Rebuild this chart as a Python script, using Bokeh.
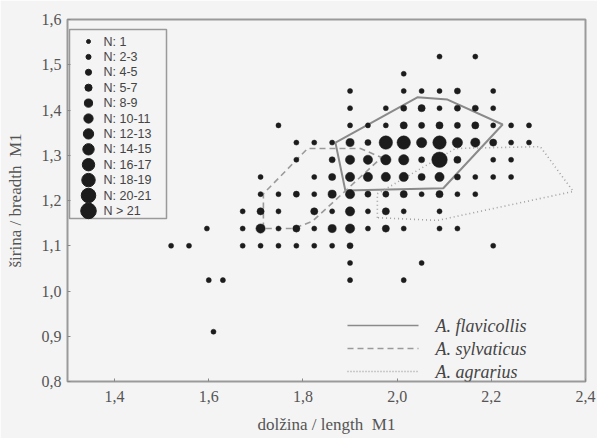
from bokeh.plotting import figure
from bokeh.models import FixedTicker, Range1d
from bokeh.embed import file_html
from bokeh.resources import INLINE
from bokeh.core.properties import value

# ---------------- data ----------------
x_ticks = [1.4, 1.6, 1.8, 2.0, 2.2, 2.4]
x_tick_labels = ["1,4", "1,6", "1,8", "2,0", "2,2", "2,4"]
y_ticks = [0.8, 0.9, 1.0, 1.1, 1.2, 1.3, 1.4, 1.5, 1.6]
y_tick_labels = ["0,8", "0,9", "1,0", "1,1", "1,2", "1,3", "1,4", "1,5", "1,6"]

# breadth rows, with lengths and counts (N) of specimens per grid cell
breadth_rows = [1.518, 1.480, 1.442, 1.404, 1.366, 1.328, 1.290, 1.252,
                1.214, 1.176, 1.138, 1.100, 1.062, 1.024, 0.910]
length_by_row = [
    [2.090, 2.166],
    [2.014],
    [1.900, 2.014, 2.052, 2.090, 2.128, 2.204],
    [1.900, 1.976, 2.014, 2.052, 2.090, 2.128, 2.166, 2.204],
    [1.748, 1.900, 1.938, 1.976, 2.014, 2.052, 2.090, 2.128, 2.166, 2.204, 2.242, 2.280],
    [1.786, 1.824, 1.862, 1.900, 1.938, 1.976, 2.014, 2.052, 2.090, 2.128, 2.166, 2.204, 2.242, 2.280],
    [1.786, 1.862, 1.900, 1.938, 1.976, 2.014, 2.052, 2.090, 2.128, 2.204, 2.242],
    [1.710, 1.824, 1.862, 1.900, 1.938, 1.976, 2.014, 2.052, 2.090, 2.128, 2.166, 2.204, 2.242],
    [1.710, 1.748, 1.786, 1.824, 1.862, 1.900, 1.938, 1.976, 2.014, 2.052, 2.090, 2.128, 2.166],
    [1.672, 1.710, 1.748, 1.824, 1.862, 1.900, 1.938, 1.976, 2.014, 2.090],
    [1.596, 1.672, 1.710, 1.748, 1.786, 1.824, 1.862, 1.900, 1.938, 1.976, 2.014, 2.090, 2.128],
    [1.520, 1.558, 1.672, 1.710, 1.748, 1.786, 1.824, 1.862, 1.900, 2.204],
    [1.900, 2.052],
    [1.600, 1.630, 1.900, 2.014],
    [1.610],
]
count_by_row = [
    [2, 2],
    [2],
    [2, 2, 2, 2, 4, 2],
    [2, 2, 4, 6, 2, 4, 4, 2],
    [2, 2, 2, 2, 6, 4, 6, 4, 6, 2, 2, 2],
    [2, 2, 2, 8, 4, 18, 18, 12, 18, 12, 10, 6, 2, 2],
    [2, 4, 10, 10, 12, 12, 4, 22, 6, 2, 2],
    [2, 2, 6, 10, 10, 10, 10, 6, 10, 4, 2, 2, 2],
    [2, 2, 4, 2, 8, 10, 4, 4, 6, 2, 6, 2, 2],
    [2, 6, 2, 6, 2, 10, 2, 6, 2, 2],
    [2, 2, 10, 2, 6, 2, 8, 10, 2, 6, 2, 2, 2],
    [2, 2, 2, 2, 2, 2, 2, 2, 4, 2],
    [2, 2],
    [2, 2, 2, 2],
    [2],
]

legend_labels = ["N: 1", "N: 2-3", "N: 4-5", "N: 5-7", "N: 8-9", "N: 10-11",
                 "N: 12-13", "N: 14-15", "N: 16-17", "N: 18-19", "N: 20-21", "N > 21"]

species = ["A. flavicollis", "A. sylvaticus", "A. agrarius"]
flav_x = [1.869, 2.043, 2.107, 2.224, 2.098, 1.890, 1.869]
flav_y = [1.328, 1.428, 1.423, 1.368, 1.227, 1.222, 1.328]
sylv_x = [1.716, 1.716, 1.810, 1.922, 1.967, 1.820, 1.780, 1.716]
sylv_y = [1.138, 1.215, 1.315, 1.315, 1.295, 1.154, 1.138, 1.138]
agr_x = [1.958, 1.958, 2.124, 2.304, 2.374, 2.086, 1.958]
agr_y = [1.162, 1.215, 1.315, 1.319, 1.220, 1.156, 1.162]

# ---------------- layout ----------------
W, H = 597, 438
FL, FR, FT, FB = 67, 585, 19, 381
X0, X1 = 1.3, 2.4
Y0, Y1 = 0.8, 1.6
BG = "#f4f4f4"
INK = "#1c1c1c"
GRAY = "#555555"
SERIF = "Liberation Serif"


def sx(px):
    return X0 + (px - FL) * (X1 - X0) / (FR - FL)


def sy(py):
    return Y1 - (py - FT) * (Y1 - Y0) / (FB - FT)


def diam(n):
    cat = min(n // 2, 11)
    return 4 + 1.05 * cat


p = figure(width=W, height=H, output_backend="svg", toolbar_location=None,
           x_range=Range1d(X0, X1), y_range=Range1d(Y0, Y1),
           min_border_left=FL, min_border_right=W - FR,
           min_border_top=FT, min_border_bottom=H - FB)
p.background_fill_color = BG
p.border_fill_color = BG
p.outline_line_color = "#9a9a9a"
p.outline_line_width = 2
p.grid.visible = False

for ax, ticks, labels in ((p.xaxis, x_ticks, x_tick_labels), (p.yaxis, y_ticks, y_tick_labels)):
    ax.ticker = FixedTicker(ticks=ticks)
    ax.major_label_overrides = {t: l for t, l in zip(ticks, labels)}
    ax.axis_line_color = None
    ax.major_tick_in = 3
    ax.major_tick_out = 0
    ax.major_tick_line_color = "#888888"
    ax.minor_tick_line_color = None
    ax.major_label_text_font = SERIF
    ax.major_label_text_font_size = "16px"
    ax.major_label_text_color = GRAY
    ax.axis_label_text_font = SERIF
    ax.axis_label_text_font_size = "17px"
    ax.axis_label_text_font_style = "normal"
    ax.axis_label_text_color = GRAY

p.xaxis.axis_label = "dolžina / length\u00a0\u00a0M1"
p.yaxis.axis_label = "širina / breadth\u00a0\u00a0M1"
p.xaxis.major_label_standoff = 9
p.xaxis.axis_label_standoff = 10
p.yaxis.major_label_standoff = 6
p.yaxis.axis_label_standoff = 14

# species polygons
p.line(flav_x, flav_y, line_color="#8a8a8a", line_width=2)
p.line(sylv_x, sylv_y, line_color="#9a9a9a", line_width=1.6, line_dash="6 4")
p.line(agr_x, agr_y, line_color="#a0a0a0", line_width=1.6, line_dash="1 3")

# points
xs, ys, ss = [], [], []
for b, lens, cnts in zip(breadth_rows, length_by_row, count_by_row):
    for l, c in zip(lens, cnts):
        xs.append(l)
        ys.append(b)
        ss.append(diam(c))
p.scatter(xs, ys, size=ss, fill_color=INK, line_color=INK, line_width=0.5)

# size legend
p.quad(left=sx(69), right=sx(166), top=sy(29), bottom=sy(218),
       fill_color=BG, line_color="#9a9a9a", line_width=1.5)
ly = [sy(41 + 15.4 * k) for k in range(len(legend_labels))]
p.scatter([sx(88)] * len(ly), ly, size=[4 + 1.05 * k for k in range(len(ly))],
          fill_color=INK, line_color=INK)
p.text([sx(103)] * len(ly), ly, text=legend_labels, text_font=value("Liberation Sans"),
       text_font_size="12.5px", text_baseline="middle", text_color="#444444")

# species legend
sp_y = [sy(325), sy(348), sy(371)]
p.segment(sx(347), sp_y[0], sx(418), sp_y[0], line_color="#8a8a8a", line_width=1.5)
p.segment(sx(347), sp_y[1], sx(418), sp_y[1], line_color="#9a9a9a", line_width=1.5, line_dash="6 4")
p.segment(sx(347), sp_y[2], sx(418), sp_y[2], line_color="#a0a0a0", line_width=1.5, line_dash="1 2")
p.text([sx(435)] * 3, sp_y, text=species, text_font=value(SERIF),
       text_font_style="italic", text_font_size="18px", text_baseline="middle",
       text_color="#444444")

open("out.html", "w").write(file_html(p, INLINE))
